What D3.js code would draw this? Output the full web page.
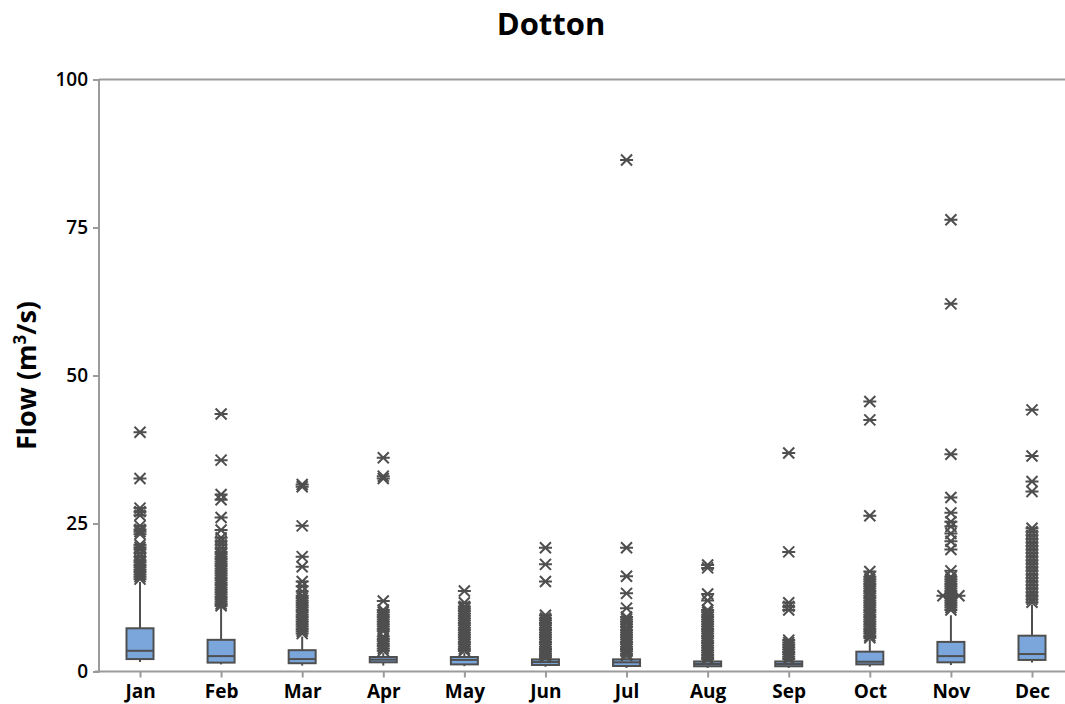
<!DOCTYPE html>
<html>
<head>
<meta charset="utf-8">
<script src="https://cdn.jsdelivr.net/npm/d3@7"></script>
<style>
  html, body { margin: 0; padding: 0; background: #fff; }
  svg { display: block; font-family: "Open Sans", "Noto Sans", sans-serif; }
</style>
</head>
<body>
<svg id="chart" width="1065" height="704"></svg>
<script>
// Monthly flow summaries (m³/s): whisker ends, quartiles and median
const months = ["Jan", "Feb", "Mar", "Apr", "May", "Jun", "Jul", "Aug", "Sep", "Oct", "Nov", "Dec"];
const whiskerLow  = [1.6, 1.2, 1.0, 1.0, 0.9, 0.8, 0.6, 0.6, 0.6, 0.8, 1.1, 1.5];
const q1          = [2.1, 1.5, 1.4, 1.55, 1.2, 1.1, 0.93, 0.88, 0.88, 1.2, 1.55, 1.95];
const median      = [3.5, 2.6, 2.1, 2.0, 1.95, 1.6, 1.55, 1.27, 1.27, 1.65, 2.6, 2.95];
const q3          = [7.3, 5.35, 3.6, 2.45, 2.45, 2.05, 2.05, 1.7, 1.7, 3.35, 5.0, 6.05];
const whiskerHigh = [15.1, 10.9, 5.9, 3.1, 3.2, 2.25, 2.4, 1.9, 1.9, 5.4, 9.5, 11.3];

// Outlying daily flows per month
const outJan = [40.4, 32.6, 27.6, 27.0, 26.4, 24.6, 24.0, 23.6, 23.2, 21.4, 21.0, 20.6, 20.0, 19.4, 18.8, 18.4, 18.0, 17.6, 17.2, 16.8, 16.4, 16.0, 15.6];
const outFeb = [43.5, 35.7, 29.9, 29.0, 26.0, 23.9, 22.6, 22.0, 21.4, 20.8, 20.2, 19.8, 19.4, 19.0, 18.6, 18.2, 17.8, 17.4, 17.0, 16.6, 16.2, 15.8, 15.4, 15.0, 14.6, 14.2, 13.8, 13.4, 13.0, 12.6, 12.2, 11.8, 11.4, 11.1];
const outMar = [31.6, 31.2, 24.6, 19.4, 17.7, 15.2, 14.4, 13.5, 12.8, 12.4, 12.0, 11.6, 11.2, 10.8, 10.4, 10.0, 9.6, 9.2, 8.8, 8.4, 8.0, 7.6, 7.2, 6.8, 6.4];
const outApr = [36.1, 33.0, 32.6, 11.9, 10.4, 10.0, 9.6, 9.2, 8.8, 8.4, 8.0, 7.6, 7.2, 6.8, 5.9, 5.5, 5.1, 4.7, 4.3, 3.9, 3.5];
const outMay = [13.6, 11.6, 11.0, 10.6, 10.2, 9.8, 9.4, 9.0, 8.6, 8.2, 7.8, 7.4, 7.0, 6.6, 6.2, 5.8, 5.4, 5.0, 4.6, 4.2, 3.8, 3.5];
const outJun = [20.9, 18.1, 15.2, 9.5, 9.0, 8.6, 8.2, 7.8, 7.4, 7.0, 6.6, 6.2, 5.8, 5.4, 5.0, 4.6, 4.2, 3.8, 3.4, 3.0, 2.7, 2.4];
const outJul = [86.4, 20.9, 16.1, 13.2, 10.7, 9.2, 8.8, 8.4, 8.0, 7.5, 7.0, 6.6, 6.2, 5.8, 5.4, 5.0, 4.6, 4.2, 3.8, 3.4, 3.0, 2.7];
const outAug = [18.0, 17.5, 13.1, 12.0, 10.4, 10.0, 9.6, 9.2, 8.8, 8.4, 8.0, 7.6, 7.2, 6.8, 6.4, 6.0, 5.6, 5.2, 4.8, 4.4, 4.0, 3.6, 3.2, 2.8, 2.4, 2.1];
const outSep = [36.9, 20.2, 11.6, 11.0, 10.4, 5.3, 4.9, 4.5, 4.1, 3.7, 3.3, 2.9, 2.5, 2.1];
const outOct = [45.6, 42.5, 26.3, 16.9, 16.0, 15.6, 15.2, 14.8, 14.4, 14.0, 13.6, 13.2, 12.8, 12.4, 12.0, 11.6, 11.2, 10.8, 10.4, 10.0, 9.6, 9.2, 8.8, 8.4, 8.0, 7.6, 7.2, 6.8, 6.4, 6.0, 5.7];
const outNov = [76.3, 62.1, 36.7, 29.4, 26.8, 25.3, 24.5, 23.3, 22.0, 20.6, 17.0, 16.0, 15.6, 15.2, 14.8, 14.4, 14.0, 13.6, 13.2, 12.8, 12.8, 12.8, 12.4, 12.0, 11.6, 11.2, 10.8, 10.4];
const outDec = [44.2, 36.4, 32.1, 30.4, 24.2, 23.6, 23.0, 22.4, 21.8, 21.2, 20.6, 20.0, 19.4, 18.8, 18.2, 17.6, 17.0, 16.4, 15.8, 15.2, 14.6, 14.0, 13.4, 12.8, 12.2, 11.7];
const outliers = [outJan, outFeb, outMar, outApr, outMay, outJun, outJul, outAug, outSep, outOct, outNov, outDec];

const yTicks = [0, 25, 50, 75, 100];

const svg = d3.select("#chart");
const plotLeft = 99, plotRight = 1065, plotTop = 79.5, plotBottom = 671.5;

const x = d3.scalePoint().domain(months).range([140, 1032]);
const y = d3.scaleLinear().domain([0, 100]).range([plotBottom, plotTop]);

const axisColor = "#9b9b9b";
const markColor = "#4f4f4f";
const boxFill = "#7aa6dc";
const boxHalf = 13.5;

// Title
svg.append("text")
  .attr("x", 551).attr("y", 35)
  .attr("text-anchor", "middle")
  .style("font-size", "31px").style("font-weight", 700)
  .text("Dotton");

// Y axis title with superscript
const yTitle = svg.append("text")
  .attr("transform", `translate(36,${(plotTop + plotBottom) / 2}) rotate(-90)`)
  .attr("text-anchor", "middle")
  .style("font-size", "27px").style("font-weight", 700);
yTitle.append("tspan").text("Flow (m");
yTitle.append("tspan").attr("dy", -10).style("font-size", "17px").text("3");
yTitle.append("tspan").attr("dy", 10).text("/s)");

// Frame: top edge of the plot area
svg.append("line")
  .attr("x1", plotLeft).attr("x2", plotRight).attr("y1", plotTop).attr("y2", plotTop)
  .attr("stroke", axisColor).attr("stroke-width", 2);

// Y axis
const yAxis = svg.append("g")
  .attr("transform", `translate(${plotLeft},0)`)
  .call(d3.axisLeft(y).tickValues(yTicks).tickSize(6).tickPadding(5));
yAxis.select(".domain").attr("stroke", axisColor).attr("stroke-width", 2)
  .attr("d", `M0,${plotTop}V${plotBottom + 1}`);
yAxis.selectAll(".tick line").attr("stroke", axisColor).attr("stroke-width", 2);
yAxis.selectAll(".tick text")
  .style("font-size", "19px").style("font-weight", 600)
  .style("font-family", "'Open Sans', sans-serif")
  .attr("fill", "#000");

// X axis
const xAxis = svg.append("g")
  .attr("transform", `translate(0,${plotBottom})`)
  .call(d3.axisBottom(x).tickSize(6).tickPadding(7));
xAxis.select(".domain").attr("stroke", axisColor).attr("stroke-width", 2)
  .attr("d", `M${plotLeft - 4},0H${plotRight}`);
xAxis.selectAll(".tick line").attr("stroke", axisColor).attr("stroke-width", 2);
xAxis.selectAll(".tick text")
  .style("font-size", "19px").style("font-weight", 700)
  .style("font-family", "'Open Sans', sans-serif")
  .attr("fill", "#000");

// Boxes and whiskers
const stats = months.map((m, i) => ({
  month: m, lo: whiskerLow[i], q1: q1[i], med: median[i], q3: q3[i], hi: whiskerHigh[i], out: outliers[i]
}));

const g = svg.append("g");
const box = g.selectAll("g.box").data(stats).join("g").attr("class", "box")
  .attr("transform", d => `translate(${x(d.month)},0)`);

box.append("line")
  .attr("y1", d => y(d.hi)).attr("y2", d => y(d.q3))
  .attr("stroke", markColor).attr("stroke-width", 2);
box.append("line")
  .attr("y1", d => y(d.q1)).attr("y2", d => y(d.lo))
  .attr("stroke", markColor).attr("stroke-width", 2);
box.append("rect")
  .attr("x", -boxHalf).attr("width", boxHalf * 2)
  .attr("y", d => y(d.q3)).attr("height", d => y(d.q1) - y(d.q3))
  .attr("fill", boxFill).attr("stroke", markColor).attr("stroke-width", 2);
box.append("line")
  .attr("x1", -boxHalf).attr("x2", boxHalf)
  .attr("y1", d => y(d.med)).attr("y2", d => y(d.med))
  .attr("stroke", markColor).attr("stroke-width", 2);

// Outliers drawn as asterisks; tied values are set side by side
const star = "M-6.5,0H6.5M-5.5,-5.5L5.5,5.5M-5.5,5.5L5.5,-5.5";
box.each(function (d) {
  const counts = d3.rollup(d.out, v => v.length, v => v);
  const seen = new Map();
  const pts = d.out.map(v => {
    const n = counts.get(v);
    const k = seen.get(v) || 0;
    seen.set(v, k + 1);
    return { v, off: (k - (n - 1) / 2) * 8 };
  });
  d3.select(this).selectAll("path.out").data(pts).join("path")
    .attr("class", "out")
    .attr("transform", p => `translate(${p.off},${y(p.v)})`)
    .attr("d", star)
    .attr("fill", "none").attr("stroke", markColor).attr("stroke-width", 2);
});
</script>
</body>
</html>
